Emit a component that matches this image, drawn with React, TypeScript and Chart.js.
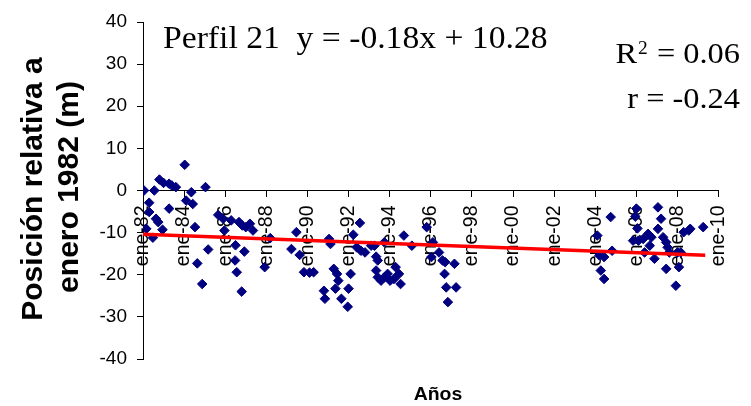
import React, { useEffect, useRef } from 'react';
import { Chart, registerables } from 'chart.js';

Chart.register(...registerables);

// Tick positions (decimal years) and labels
const xTickYears = [1982, 1984, 1986, 1988, 1990, 1992, 1994, 1996, 1998, 2000, 2002, 2004, 2006, 2008, 2010];
const xTickLabels = ['ene-82', 'ene-84', 'ene-86', 'ene-88', 'ene-90', 'ene-92', 'ene-94', 'ene-96', 'ene-98', 'ene-00', 'ene-02', 'ene-04', 'ene-06', 'ene-08', 'ene-10'];

// Survey dates (decimal years) and relative positions (m)
const surveyYears = [
  1982.05, 1982.3, 1982.55, 1982.8, 1983.0, 1983.27, 1983.4, 1983.6, 1984.03, 1984.35,
  1985.04, 1984.1, 1984.42, 1983.27, 1982.3, 1982.63, 1982.74, 1982.16, 1982.48, 1982.95,
  1984.53, 1984.64, 1984.88, 1985.17, 1985.66, 1985.9, 1986.29, 1985.96, 1986.67, 1986.83,
  1987.0, 1987.2, 1987.35, 1986.5, 1986.93, 1986.48, 1986.56, 1986.8, 1987.92, 1988.19,
  1989.22, 1989.46, 1989.62, 1989.83, 1990.1, 1990.3, 1990.8, 1990.85, 1991.05, 1991.12,
  1991.28, 1991.44, 1991.5, 1991.36, 1991.65, 1991.96, 1992.0, 1992.1, 1992.55, 1992.23,
  1992.4, 1992.6, 1992.8, 1993.1, 1993.26, 1993.34, 1993.42, 1993.34, 1993.42, 1993.58,
  1993.74, 1993.9, 1994.02, 1994.21, 1994.29, 1994.45, 1994.53, 1993.74, 1994.69, 1995.08,
  1995.8, 1996.1, 1996.03, 1996.4, 1996.57, 1996.7, 1996.67, 1997.15, 1996.75, 1997.23,
  1996.83, 2004.1, 2004.2, 2004.43, 2004.27, 2004.43, 2004.75, 2004.82, 2005.84, 2006.0,
  2006.1, 2006.33, 2006.57, 2006.73, 2006.65, 2006.4, 2006.88, 2007.05, 2007.05, 2007.2,
  2007.3, 2007.45, 2007.52, 2007.45, 2007.6, 2008.0, 2008.16, 2007.92, 2008.07, 2008.3,
  2008.55, 2008.62, 2009.25, 2005.95, 2006.05
];
const surveyValues = [
  0, -2.9, 0, 2.6, 1.8, 1.6, 1.2, 0.8, 6.1, -0.4,
  0.8, -2.4, -3.2, -4.3, -5.1, -6.7, -7.5, -9.1, -11.2, -9.3,
  -8.7, -17.3, -22.2, -14.0, -5.8, -6.7, -7.1, -9.5, -7.5, -8.3,
  -8.7, -7.9, -9.5, -13.0, -14.5, -16.6, -19.4, -24.0, -18.2, -11.3,
  -13.9, -9.9, -15.3, -19.4, -19.5, -19.4, -23.8, -25.7, -11.5, -12.7,
  -18.6, -19.8, -21.4, -23.3, -25.7, -27.6, -23.3, -19.8, -7.7, -10.5,
  -13.5, -14.3, -14.7, -13.1, -13.1, -15.7, -16.6, -19.0, -20.6, -21.4,
  -20.6, -19.8, -21.4, -21.0, -18.2, -19.8, -22.2, -12.3, -10.7, -13.1,
  -8.7, -12.3, -15.8, -14.7, -16.6, -17.0, -19.8, -17.4, -23.0, -23.0,
  -26.5, -10.7, -15.4, -15.8, -19.0, -21.0, -6.3, -14.3, -11.9, -4.3,
  -11.9, -11.5, -10.3, -11.1, -13.1, -14.7, -16.2, -9.1, -4.0, -6.7,
  -11.1, -12.3, -13.5, -18.6, -14.7, -14.7, -14.7, -22.6, -18.2, -9.9,
  -9.5, -9.1, -8.7, -6.2, -9.0
];

// Linear trend endpoints (y = -0.18x + 10.28)
const trendYears = [1982.0, 2009.35];
const trendValues = [-10.4, -15.4];

const titleText = 'Perfil 21  y = -0.18x + 10.28';
const r2Value = '0.06';
const rValue = '-0.24';
const yTitleLines = ['Posición relativa a', 'enero 1982 (m)'];
const xTitle = 'Años';

const SANS = '"Liberation Sans", Arial, sans-serif';
const SERIF = '"Liberation Serif", "Times New Roman", serif';

const annotations = {
  id: 'annotations',
  afterDraw(chart: any) {
    const ctx = chart.ctx as CanvasRenderingContext2D;
    ctx.save();
    ctx.fillStyle = '#000';
    ctx.textBaseline = 'alphabetic';

    // Y axis title (two rotated lines)
    ctx.font = `bold 30px ${SANS}`;
    ctx.textAlign = 'center';
    const yLines = [[42, 189], [78, 187]];
    yTitleLines.forEach((line, i) => {
      ctx.save();
      ctx.translate(yLines[i][0], yLines[i][1]);
      ctx.rotate(-Math.PI / 2);
      ctx.fillText(line, 0, 0);
      ctx.restore();
    });

    const sx = 1.08;
    // X axis title
    ctx.save();
    ctx.font = `bold 18px ${SANS}`;
    ctx.textAlign = 'center';
    ctx.translate(438, 400);
    ctx.scale(sx, 1);
    ctx.fillText(xTitle, 0, 0);
    ctx.restore();

    // Equation title
    ctx.save();
    ctx.font = `31px ${SERIF}`;
    ctx.textAlign = 'left';
    ctx.translate(163, 48);
    ctx.scale(1.085, 1);
    ctx.fillText(titleText, 0, 0);
    ctx.restore();

    // R^2
    ctx.save();
    ctx.font = `30px ${SERIF}`;
    const p3 = ' = ' + r2Value;
    const w3 = ctx.measureText(p3).width * sx;
    const w1 = ctx.measureText('R').width * sx;
    ctx.font = `18px ${SERIF}`;
    const w2 = ctx.measureText('2').width * sx;
    const right = 740;
    const x3 = right - w3;
    const x2 = x3 - w2;
    const x1 = x2 - w1 - 2;
    ctx.textAlign = 'left';
    ctx.font = `30px ${SERIF}`;
    ctx.save(); ctx.translate(x1, 63); ctx.scale(sx, 1); ctx.fillText('R', 0, 0); ctx.restore();
    ctx.save(); ctx.translate(x3, 63); ctx.scale(sx, 1); ctx.fillText(p3, 0, 0); ctx.restore();
    ctx.font = `18px ${SERIF}`;
    ctx.save(); ctx.translate(x2 - 1, 54); ctx.scale(sx, 1); ctx.fillText('2', 0, 0); ctx.restore();
    ctx.restore();

    // r
    ctx.save();
    ctx.font = `30px ${SERIF}`;
    ctx.textAlign = 'right';
    ctx.translate(740, 108);
    ctx.scale(sx, 1);
    ctx.fillText('r = ' + rValue, 0, 0);
    ctx.restore();

    ctx.restore();
  },
};

export default function App() {
  const canvasRef = useRef<HTMLCanvasElement | null>(null);

  useEffect(() => {
    const canvas = canvasRef.current;
    if (!canvas) return;
    const points = surveyYears.map((x, i) => ({ x, y: surveyValues[i] }));
    const trend = trendYears.map((x, i) => ({ x, y: trendValues[i] }));

    const chart = new Chart(canvas, {
      type: 'scatter',
      data: {
        datasets: [
          {
            label: 'Perfil 21',
            data: points,
            pointStyle: 'rectRot',
            pointRadius: 4.8,
            pointBackgroundColor: '#000080',
            pointBorderColor: '#000080',
            pointBorderWidth: 1,
            showLine: false,
            order: 2,
          },
          {
            label: 'Tendencia',
            data: trend,
            type: 'line',
            showLine: true,
            borderColor: '#ff0000',
            borderWidth: 3.5,
            pointRadius: 0,
            fill: false,
            order: 1,
          },
        ],
      },
      options: {
        animation: false,
        responsive: false,
        maintainAspectRatio: false,
        layout: { padding: { left: 0, top: 22, right: 19, bottom: 47 } },
        plugins: {
          legend: { display: false },
          tooltip: { enabled: false },
          title: { display: false },
        },
        scales: {
          x: {
            type: 'linear',
            position: { y: 0 },
            min: 1982,
            max: 2010,
            afterBuildTicks: (scale: any) => {
              scale.ticks = xTickYears.map((v) => ({ value: v }));
            },
            grid: {
              drawOnChartArea: false,
              drawTicks: true,
              tickLength: 6,
              tickColor: '#000',
              tickWidth: 1,
            },
            border: { display: true, color: '#000', width: 1 },
            ticks: {
              autoSkip: false,
              minRotation: 90,
              maxRotation: 90,
              padding: 9,
              color: '#000',
              font: { family: SANS, size: 19.5 },
              callback: (value: any) => {
                const i = xTickYears.indexOf(Number(value));
                return i >= 0 ? xTickLabels[i] : '';
              },
            },
          },
          y: {
            type: 'linear',
            position: 'left',
            min: -40,
            max: 40,
            afterFit: (scale: any) => {
              scale.width = 143;
            },
            grid: {
              drawOnChartArea: false,
              drawTicks: true,
              tickLength: 6,
              tickColor: '#000',
              tickWidth: 1,
            },
            border: { display: true, color: '#000', width: 1 },
            ticks: {
              stepSize: 10,
              padding: 10,
              color: '#000',
              font: { family: SANS, size: 19 },
            },
          },
        },
      },
      plugins: [annotations],
    } as any);

    return () => chart.destroy();
  }, []);

  return (
    <div style={{ position: 'fixed', left: 0, top: 0, width: 751, height: 406, background: '#fff' }}>
      <canvas ref={canvasRef} width={751} height={406} style={{ display: 'block' }} />
    </div>
  );
}
